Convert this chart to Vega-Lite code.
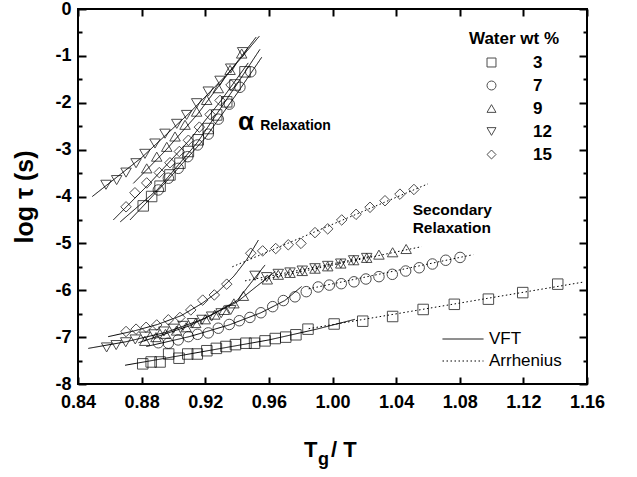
{
  "$schema": "https://vega.github.io/schema/vega-lite/v6.json",
  "width": 509,
  "height": 375,
  "autosize": {"type": "none"},
  "padding": {"left": 78, "top": 9, "right": 50, "bottom": 93},
  "background": "white",
  "config": {
    "view": {"stroke": "black", "strokeWidth": 2},
    "font": "Liberation Sans",
    "axis": {"grid": false, "labelColor": "black", "titleColor": "black", "labelFont": "Liberation Sans", "titleFont": "Liberation Sans", "labelFlush": false, "labelOverlap": false},
    "legend": {"labelFont": "Liberation Sans", "titleFont": "Liberation Sans", "labelColor": "black", "titleColor": "black"}
  },
  "datasets": {
    "points": [
      {"water": "3", "x": 0.8810, "y": -4.20}, {"water": "3", "x": 0.8863, "y": -4.00}, {"water": "3", "x": 0.8916, "y": -3.78}, {"water": "3", "x": 0.8978, "y": -3.54}, {"water": "3", "x": 0.9041, "y": -3.29}, {"water": "3", "x": 0.9094, "y": -3.04}, {"water": "3", "x": 0.9156, "y": -2.79}, {"water": "3", "x": 0.9219, "y": -2.55}, {"water": "3", "x": 0.9272, "y": -2.26}, {"water": "3", "x": 0.9335, "y": -1.98}, {"water": "3", "x": 0.9387, "y": -1.62}, {"water": "3", "x": 0.9450, "y": -1.34},
      {"water": "3", "x": 0.8807, "y": -7.57}, {"water": "3", "x": 0.8860, "y": -7.53}, {"water": "3", "x": 0.8916, "y": -7.53}, {"water": "3", "x": 0.8970, "y": -7.36}, {"water": "3", "x": 0.9035, "y": -7.45}, {"water": "3", "x": 0.9090, "y": -7.36}, {"water": "3", "x": 0.9150, "y": -7.36}, {"water": "3", "x": 0.9210, "y": -7.29}, {"water": "3", "x": 0.9270, "y": -7.24}, {"water": "3", "x": 0.9330, "y": -7.20}, {"water": "3", "x": 0.9390, "y": -7.16}, {"water": "3", "x": 0.9456, "y": -7.13}, {"water": "3", "x": 0.9510, "y": -7.13}, {"water": "3", "x": 0.9576, "y": -7.08}, {"water": "3", "x": 0.9640, "y": -7.03}, {"water": "3", "x": 0.9706, "y": -7.00}, {"water": "3", "x": 0.9770, "y": -6.95}, {"water": "3", "x": 0.9846, "y": -6.83}, {"water": "3", "x": 1.0010, "y": -6.72}, {"water": "3", "x": 1.0190, "y": -6.66}, {"water": "3", "x": 1.0378, "y": -6.56}, {"water": "3", "x": 1.0570, "y": -6.41}, {"water": "3", "x": 1.0766, "y": -6.30}, {"water": "3", "x": 1.0980, "y": -6.19}, {"water": "3", "x": 1.1196, "y": -6.05}, {"water": "3", "x": 1.1416, "y": -5.87},
      {"water": "7", "x": 0.8905, "y": -3.86}, {"water": "7", "x": 0.8968, "y": -3.61}, {"water": "7", "x": 0.9030, "y": -3.40}, {"water": "7", "x": 0.9090, "y": -3.15}, {"water": "7", "x": 0.9152, "y": -2.90}, {"water": "7", "x": 0.9219, "y": -2.67}, {"water": "7", "x": 0.9282, "y": -2.35}, {"water": "7", "x": 0.9351, "y": -2.03}, {"water": "7", "x": 0.9418, "y": -1.67}, {"water": "7", "x": 0.9486, "y": -1.34},
      {"water": "7", "x": 0.8905, "y": -7.12}, {"water": "7", "x": 0.8968, "y": -7.13}, {"water": "7", "x": 0.9030, "y": -7.06}, {"water": "7", "x": 0.9094, "y": -6.99}, {"water": "7", "x": 0.9152, "y": -6.94}, {"water": "7", "x": 0.9219, "y": -6.91}, {"water": "7", "x": 0.9282, "y": -6.81}, {"water": "7", "x": 0.9351, "y": -6.73}, {"water": "7", "x": 0.9414, "y": -6.65}, {"water": "7", "x": 0.9481, "y": -6.58}, {"water": "7", "x": 0.9550, "y": -6.48}, {"water": "7", "x": 0.9624, "y": -6.35}, {"water": "7", "x": 0.9691, "y": -6.22}, {"water": "7", "x": 0.9764, "y": -6.14}, {"water": "7", "x": 0.9835, "y": -6.03}, {"water": "7", "x": 0.9910, "y": -5.93}, {"water": "7", "x": 0.9980, "y": -5.89}, {"water": "7", "x": 1.0055, "y": -5.86}, {"water": "7", "x": 1.0135, "y": -5.82}, {"water": "7", "x": 1.0210, "y": -5.76}, {"water": "7", "x": 1.0292, "y": -5.71}, {"water": "7", "x": 1.0376, "y": -5.66}, {"water": "7", "x": 1.0460, "y": -5.59}, {"water": "7", "x": 1.0545, "y": -5.52}, {"water": "7", "x": 1.0628, "y": -5.44}, {"water": "7", "x": 1.0712, "y": -5.36}, {"water": "7", "x": 1.0802, "y": -5.30},
      {"water": "9", "x": 0.8832, "y": -3.40}, {"water": "9", "x": 0.8895, "y": -3.15}, {"water": "9", "x": 0.8958, "y": -2.94}, {"water": "9", "x": 0.9010, "y": -2.72}, {"water": "9", "x": 0.9073, "y": -2.47}, {"water": "9", "x": 0.9146, "y": -2.19}, {"water": "9", "x": 0.9209, "y": -1.94}, {"water": "9", "x": 0.9282, "y": -1.69}, {"water": "9", "x": 0.9356, "y": -1.30}, {"water": "9", "x": 0.9429, "y": -0.95},
      {"water": "9", "x": 0.8820, "y": -7.08}, {"water": "9", "x": 0.8890, "y": -7.00}, {"water": "9", "x": 0.8950, "y": -6.93}, {"water": "9", "x": 0.9020, "y": -6.86}, {"water": "9", "x": 0.9080, "y": -6.79}, {"water": "9", "x": 0.9140, "y": -6.70}, {"water": "9", "x": 0.9200, "y": -6.62}, {"water": "9", "x": 0.9260, "y": -6.52}, {"water": "9", "x": 0.9320, "y": -6.42}, {"water": "9", "x": 0.9380, "y": -6.28}, {"water": "9", "x": 0.9440, "y": -6.12}, {"water": "9", "x": 0.9590, "y": -5.77}, {"water": "9", "x": 0.9659, "y": -5.67}, {"water": "9", "x": 0.9733, "y": -5.63}, {"water": "9", "x": 0.9810, "y": -5.59}, {"water": "9", "x": 0.9890, "y": -5.54}, {"water": "9", "x": 0.9970, "y": -5.49}, {"water": "9", "x": 1.0052, "y": -5.43}, {"water": "9", "x": 1.0133, "y": -5.36}, {"water": "9", "x": 1.0215, "y": -5.31}, {"water": "9", "x": 1.0292, "y": -5.24}, {"water": "9", "x": 1.0378, "y": -5.19}, {"water": "9", "x": 1.0463, "y": -5.12},
      {"water": "12", "x": 0.8576, "y": -3.75}, {"water": "12", "x": 0.8643, "y": -3.65}, {"water": "12", "x": 0.8702, "y": -3.49}, {"water": "12", "x": 0.8765, "y": -3.29}, {"water": "12", "x": 0.8821, "y": -3.09}, {"water": "12", "x": 0.8884, "y": -2.87}, {"water": "12", "x": 0.8947, "y": -2.66}, {"water": "12", "x": 0.9021, "y": -2.45}, {"water": "12", "x": 0.9083, "y": -2.26}, {"water": "12", "x": 0.9146, "y": -2.01}, {"water": "12", "x": 0.9219, "y": -1.76}, {"water": "12", "x": 0.9293, "y": -1.53}, {"water": "12", "x": 0.9360, "y": -1.27}, {"water": "12", "x": 0.9435, "y": -0.92},
      {"water": "12", "x": 0.8580, "y": -7.22}, {"water": "12", "x": 0.8640, "y": -7.17}, {"water": "12", "x": 0.8700, "y": -7.11}, {"water": "12", "x": 0.8760, "y": -7.05}, {"water": "12", "x": 0.8820, "y": -6.99}, {"water": "12", "x": 0.8880, "y": -6.94}, {"water": "12", "x": 0.8940, "y": -6.88}, {"water": "12", "x": 0.9000, "y": -6.82}, {"water": "12", "x": 0.9060, "y": -6.76}, {"water": "12", "x": 0.9120, "y": -6.70}, {"water": "12", "x": 0.9180, "y": -6.63}, {"water": "12", "x": 0.9240, "y": -6.56}, {"water": "12", "x": 0.9300, "y": -6.49}, {"water": "12", "x": 0.9360, "y": -6.42}, {"water": "12", "x": 0.9513, "y": -5.69}, {"water": "12", "x": 0.9586, "y": -5.72}, {"water": "12", "x": 0.9659, "y": -5.65}, {"water": "12", "x": 0.9733, "y": -5.62}, {"water": "12", "x": 0.9810, "y": -5.58}, {"water": "12", "x": 0.9890, "y": -5.53}, {"water": "12", "x": 0.9970, "y": -5.48}, {"water": "12", "x": 1.0052, "y": -5.43}, {"water": "12", "x": 1.0133, "y": -5.36}, {"water": "12", "x": 1.0215, "y": -5.31},
      {"water": "15", "x": 0.8702, "y": -4.22}, {"water": "15", "x": 0.8758, "y": -3.92}, {"water": "15", "x": 0.8832, "y": -3.71}, {"water": "15", "x": 0.8911, "y": -3.49}, {"water": "15", "x": 0.8978, "y": -3.28}, {"water": "15", "x": 0.9037, "y": -3.04}, {"water": "15", "x": 0.9094, "y": -2.80}, {"water": "15", "x": 0.9163, "y": -2.52}, {"water": "15", "x": 0.9230, "y": -2.25}, {"water": "15", "x": 0.9293, "y": -1.95}, {"water": "15", "x": 0.9362, "y": -1.62},
      {"water": "15", "x": 0.8702, "y": -6.88}, {"water": "15", "x": 0.8765, "y": -6.83}, {"water": "15", "x": 0.8828, "y": -6.79}, {"water": "15", "x": 0.8895, "y": -6.74}, {"water": "15", "x": 0.8968, "y": -6.63}, {"water": "15", "x": 0.9041, "y": -6.58}, {"water": "15", "x": 0.9109, "y": -6.42}, {"water": "15", "x": 0.9184, "y": -6.21}, {"water": "15", "x": 0.9257, "y": -6.10}, {"water": "15", "x": 0.9335, "y": -5.87}, {"water": "15", "x": 0.9486, "y": -5.21}, {"water": "15", "x": 0.9561, "y": -5.16}, {"water": "15", "x": 0.9643, "y": -5.11}, {"water": "15", "x": 0.9722, "y": -5.03}, {"water": "15", "x": 0.9802, "y": -5.00}, {"water": "15", "x": 0.9890, "y": -4.77}, {"water": "15", "x": 0.9970, "y": -4.69}, {"water": "15", "x": 1.0058, "y": -4.50}, {"water": "15", "x": 1.0148, "y": -4.38}, {"water": "15", "x": 1.0236, "y": -4.23}, {"water": "15", "x": 1.0330, "y": -4.09}, {"water": "15", "x": 1.0424, "y": -3.95}, {"water": "15", "x": 1.0512, "y": -3.85}
    ],
    "fits": [
      {"water": "3", "part": "alpha", "fit": "VFT", "x": 0.8666, "y": -4.54}, {"water": "3", "part": "alpha", "fit": "VFT", "x": 0.8900, "y": -3.85}, {"water": "3", "part": "alpha", "fit": "VFT", "x": 0.9150, "y": -2.85}, {"water": "3", "part": "alpha", "fit": "VFT", "x": 0.9400, "y": -1.60}, {"water": "3", "part": "alpha", "fit": "VFT", "x": 0.9544, "y": -0.86},
      {"water": "7", "part": "alpha", "fit": "VFT", "x": 0.8727, "y": -4.50}, {"water": "7", "part": "alpha", "fit": "VFT", "x": 0.8950, "y": -3.70}, {"water": "7", "part": "alpha", "fit": "VFT", "x": 0.9200, "y": -2.75}, {"water": "7", "part": "alpha", "fit": "VFT", "x": 0.9400, "y": -1.80}, {"water": "7", "part": "alpha", "fit": "VFT", "x": 0.9555, "y": -1.03},
      {"water": "9", "part": "alpha", "fit": "VFT", "x": 0.8748, "y": -3.72}, {"water": "9", "part": "alpha", "fit": "VFT", "x": 0.8950, "y": -3.02}, {"water": "9", "part": "alpha", "fit": "VFT", "x": 0.9150, "y": -2.25}, {"water": "9", "part": "alpha", "fit": "VFT", "x": 0.9350, "y": -1.35}, {"water": "9", "part": "alpha", "fit": "VFT", "x": 0.9520, "y": -0.60},
      {"water": "12", "part": "alpha", "fit": "VFT", "x": 0.8490, "y": -4.00}, {"water": "12", "part": "alpha", "fit": "VFT", "x": 0.8800, "y": -3.17}, {"water": "12", "part": "alpha", "fit": "VFT", "x": 0.9100, "y": -2.22}, {"water": "12", "part": "alpha", "fit": "VFT", "x": 0.9350, "y": -1.35}, {"water": "12", "part": "alpha", "fit": "VFT", "x": 0.9540, "y": -0.58},
      {"water": "15", "part": "alpha", "fit": "VFT", "x": 0.8622, "y": -4.50}, {"water": "15", "part": "alpha", "fit": "VFT", "x": 0.8850, "y": -3.72}, {"water": "15", "part": "alpha", "fit": "VFT", "x": 0.9100, "y": -2.80}, {"water": "15", "part": "alpha", "fit": "VFT", "x": 0.9300, "y": -1.95}, {"water": "15", "part": "alpha", "fit": "VFT", "x": 0.9470, "y": -1.15},
      {"water": "3", "part": "secondary", "fit": "VFT", "x": 0.8696, "y": -7.60}, {"water": "3", "part": "secondary", "fit": "VFT", "x": 0.9000, "y": -7.42}, {"water": "3", "part": "secondary", "fit": "VFT", "x": 0.9300, "y": -7.24}, {"water": "3", "part": "secondary", "fit": "VFT", "x": 0.9600, "y": -7.06}, {"water": "3", "part": "secondary", "fit": "VFT", "x": 0.9900, "y": -6.83}, {"water": "3", "part": "secondary", "fit": "VFT", "x": 1.0141, "y": -6.62},
      {"water": "7", "part": "secondary", "fit": "VFT", "x": 0.8830, "y": -7.20}, {"water": "7", "part": "secondary", "fit": "VFT", "x": 0.9100, "y": -6.99}, {"water": "7", "part": "secondary", "fit": "VFT", "x": 0.9350, "y": -6.74}, {"water": "7", "part": "secondary", "fit": "VFT", "x": 0.9550, "y": -6.48}, {"water": "7", "part": "secondary", "fit": "VFT", "x": 0.9700, "y": -6.22}, {"water": "7", "part": "secondary", "fit": "VFT", "x": 0.9806, "y": -5.92},
      {"water": "9", "part": "secondary", "fit": "VFT", "x": 0.8780, "y": -7.12}, {"water": "9", "part": "secondary", "fit": "VFT", "x": 0.9100, "y": -6.76}, {"water": "9", "part": "secondary", "fit": "VFT", "x": 0.9400, "y": -6.25}, {"water": "9", "part": "secondary", "fit": "VFT", "x": 0.9640, "y": -5.60},
      {"water": "12", "part": "secondary", "fit": "VFT", "x": 0.8465, "y": -7.24}, {"water": "12", "part": "secondary", "fit": "VFT", "x": 0.8700, "y": -7.10}, {"water": "12", "part": "secondary", "fit": "VFT", "x": 0.8950, "y": -6.90}, {"water": "12", "part": "secondary", "fit": "VFT", "x": 0.9200, "y": -6.60}, {"water": "12", "part": "secondary", "fit": "VFT", "x": 0.9400, "y": -6.22}, {"water": "12", "part": "secondary", "fit": "VFT", "x": 0.9576, "y": -5.46},
      {"water": "15", "part": "secondary", "fit": "VFT", "x": 0.8590, "y": -6.99}, {"water": "15", "part": "secondary", "fit": "VFT", "x": 0.8750, "y": -6.87}, {"water": "15", "part": "secondary", "fit": "VFT", "x": 0.8900, "y": -6.73}, {"water": "15", "part": "secondary", "fit": "VFT", "x": 0.9050, "y": -6.54}, {"water": "15", "part": "secondary", "fit": "VFT", "x": 0.9180, "y": -6.28}, {"water": "15", "part": "secondary", "fit": "VFT", "x": 0.9280, "y": -6.03}, {"water": "15", "part": "secondary", "fit": "VFT", "x": 0.9380, "y": -5.70}, {"water": "15", "part": "secondary", "fit": "VFT", "x": 0.9460, "y": -5.35}, {"water": "15", "part": "secondary", "fit": "VFT", "x": 0.9534, "y": -4.93},
      {"water": "3", "part": "secondary", "fit": "Arrhenius", "x": 0.9850, "y": -6.82}, {"water": "3", "part": "secondary", "fit": "Arrhenius", "x": 1.1570, "y": -5.83},
      {"water": "7", "part": "secondary", "fit": "Arrhenius", "x": 0.9850, "y": -5.97}, {"water": "7", "part": "secondary", "fit": "Arrhenius", "x": 1.0885, "y": -5.24},
      {"water": "9", "part": "secondary", "fit": "Arrhenius", "x": 0.9550, "y": -5.78}, {"water": "9", "part": "secondary", "fit": "Arrhenius", "x": 1.0560, "y": -5.07},
      {"water": "12", "part": "secondary", "fit": "Arrhenius", "x": 0.9450, "y": -5.80}, {"water": "12", "part": "secondary", "fit": "Arrhenius", "x": 1.0250, "y": -5.27},
      {"water": "15", "part": "secondary", "fit": "Arrhenius", "x": 0.9370, "y": -5.50}, {"water": "15", "part": "secondary", "fit": "Arrhenius", "x": 1.0600, "y": -3.73}
    ]
  },
  "layer": [
    {
      "data": {"name": "fits"},
      "mark": {"type": "line", "color": "black", "strokeWidth": 1, "clip": true},
      "encoding": {
        "x": {"field": "x", "type": "quantitative", "scale": {"domain": [0.84, 1.16], "nice": false, "zero": false},
              "axis": {"orient": "top", "values": [0.84, 0.88, 0.92, 0.96, 1.0, 1.04, 1.08, 1.12, 1.16], "labels": false, "domain": false, "ticks": true, "tickColor": "black", "tickWidth": 2, "tickSize": 7, "offset": -7, "title": null}},
        "y": {"field": "y", "type": "quantitative", "scale": {"domain": [-8, 0], "nice": false, "zero": false},
              "axis": {"orient": "right", "values": [-8, -7, -6, -5, -4, -3, -2, -1, 0], "labels": false, "domain": false, "ticks": true, "tickColor": "black", "tickWidth": 2, "tickSize": 8, "offset": -8, "title": null}},
        "detail": [{"field": "water"}, {"field": "part"}],
        "strokeDash": {"field": "fit", "type": "nominal",
          "scale": {"domain": ["VFT", "Arrhenius"], "range": [[1, 0], [1.5, 2.5]]},
          "legend": {"title": null, "orient": "none", "legendX": 364, "legendY": 321, "symbolType": "stroke", "symbolSize": 1681, "symbolStrokeWidth": 1, "symbolStrokeColor": "black", "labelFontSize": 17, "labelFontWeight": "normal", "labelOffset": 5, "clipHeight": 18, "rowPadding": 4, "padding": 0}}
      }
    },
    {
      "data": {"name": "points"},
      "mark": {"type": "point", "filled": false, "color": "black", "strokeWidth": 1, "size": 110},
      "encoding": {
        "x": {"field": "x", "type": "quantitative",
              "axis": {"orient": "bottom", "values": [0.84, 0.88, 0.92, 0.96, 1.0, 1.04, 1.08, 1.12, 1.16], "format": ".2f", "title": null, "domain": false, "ticks": true, "tickColor": "black", "tickWidth": 2, "tickSize": 7, "offset": -7, "labelPadding": 9, "labelFontSize": 18, "labelFontWeight": "bold"}},
        "y": {"field": "y", "type": "quantitative",
              "axis": {"orient": "left", "values": [-8, -7, -6, -5, -4, -3, -2, -1, 0], "labelExpr": "'' + datum.value", "title": "log τ (s)", "titleFontSize": 25, "titleFontWeight": "bold", "titlePadding": 17, "domain": false, "ticks": true, "tickColor": "black", "tickWidth": 2, "tickSize": 8, "offset": -8, "labelPadding": 7, "labelFontSize": 18, "labelFontWeight": "bold"}},
        "shape": {"field": "water", "type": "nominal",
          "scale": {"domain": ["3", "7", "9", "12", "15"], "range": ["square", "circle", "triangle-up", "triangle-down", "diamond"]},
          "legend": {"title": "Water wt %", "orient": "none", "legendX": 391, "legendY": 22, "titleFontSize": 17, "titleFontWeight": "bold", "titlePadding": 6, "labelFontSize": 17, "labelFontWeight": "bold", "symbolSize": 80, "symbolStrokeWidth": 1, "symbolStrokeColor": "black", "symbolOffset": 14, "labelOffset": 33, "rowPadding": 5, "padding": 0}}
      }
    },
    {
      "data": {"values": [{}]},
      "mark": {"type": "text", "text": "α", "fontSize": 26, "fontWeight": "bold", "align": "left", "baseline": "alphabetic", "font": "Liberation Sans"},
      "encoding": {
        "x": {"datum": 0.9406, "type": "quantitative", "axis": null},
        "y": {"datum": -2.58, "type": "quantitative", "axis": {"orient": "left", "values": [-7.5, -6.5, -5.5, -4.5, -3.5, -2.5, -1.5, -0.5], "labels": false, "domain": false, "ticks": true, "tickColor": "black", "tickWidth": 2, "tickSize": 4, "offset": -4, "title": null}}
      }
    },
    {
      "data": {"values": [{}]},
      "mark": {"type": "text", "text": "Relaxation", "fontSize": 14, "fontWeight": "bold", "align": "left", "baseline": "alphabetic", "font": "Liberation Sans"},
      "encoding": {
        "x": {"datum": 0.9545, "type": "quantitative", "axis": null},
        "y": {"datum": -2.58, "type": "quantitative", "axis": {"orient": "right", "values": [-7.5, -6.5, -5.5, -4.5, -3.5, -2.5, -1.5, -0.5], "labels": false, "domain": false, "ticks": true, "tickColor": "black", "tickWidth": 2, "tickSize": 4, "offset": -4, "title": null}}
      }
    },
    {
      "data": {"values": [{}]},
      "mark": {"type": "text", "text": "Secondary", "fontSize": 15.5, "fontWeight": "bold", "align": "left", "baseline": "alphabetic", "font": "Liberation Sans"},
      "encoding": {
        "x": {"datum": 1.0504, "type": "quantitative", "axis": null},
        "y": {"datum": -4.395, "type": "quantitative", "axis": null}
      }
    },
    {
      "data": {"values": [{}]},
      "mark": {"type": "text", "text": "Relaxation", "fontSize": 15.5, "fontWeight": "bold", "align": "left", "baseline": "alphabetic", "font": "Liberation Sans"},
      "encoding": {
        "x": {"datum": 1.0504, "type": "quantitative", "axis": null},
        "y": {"datum": -4.779, "type": "quantitative", "axis": null}
      }
    },
    {
      "data": {"values": [{}]},
      "mark": {"type": "text", "text": "T", "fontSize": 22, "fontWeight": "bold", "align": "left", "baseline": "alphabetic", "font": "Liberation Sans"},
      "encoding": {
        "x": {"datum": 0.9821, "type": "quantitative", "axis": null},
        "y": {"datum": -9.557, "type": "quantitative", "axis": null}
      }
    },
    {
      "data": {"values": [{}]},
      "mark": {"type": "text", "text": "g", "fontSize": 18, "fontWeight": "bold", "align": "left", "baseline": "alphabetic", "font": "Liberation Sans"},
      "encoding": {
        "x": {"datum": 0.9909, "type": "quantitative", "axis": null},
        "y": {"datum": -9.73, "type": "quantitative", "axis": null}
      }
    },
    {
      "data": {"values": [{}]},
      "mark": {"type": "text", "text": "/ T", "fontSize": 22, "fontWeight": "bold", "align": "left", "baseline": "alphabetic", "font": "Liberation Sans"},
      "encoding": {
        "x": {"datum": 0.9991, "type": "quantitative", "axis": null},
        "y": {"datum": -9.557, "type": "quantitative", "axis": null}
      }
    }
  ],
  "resolve": {"axis": {"x": "independent", "y": "independent"}}
}
